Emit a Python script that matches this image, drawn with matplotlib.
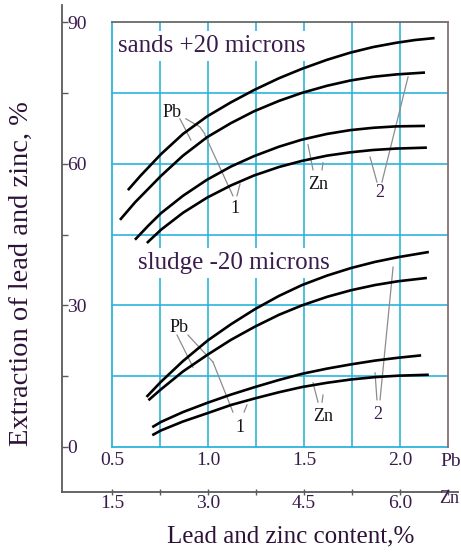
import matplotlib
matplotlib.use('Agg')
import matplotlib.pyplot as plt

plt.rcParams['font.family'] = ['Liberation Serif', 'DejaVu Serif']

# ---------------- data ----------------
# x values in Pb content (%); Zn content = 3 * Pb on the outer axis
pb_ticks = [0.5, 1.0, 1.5, 2.0]
pb_tick_labels = ['0.5', '1.0', '1.5', '2.0']
zn_tick_labels = ['1.5', '3.0', '4.5', '6.0']
zn_minor_ticks = [0.75, 1.25, 1.75, 2.25]
y_ticks = [0, 30, 60, 90]
y_tick_labels = ['0', '30', '60', '90']
y_minor_ticks = [15, 45, 75]
grid_x = [0.75, 1.0, 1.25, 1.5, 1.75, 2.0]
grid_y = [15, 30, 45, 60, 75]

# sands +20 microns
sands_pb1_x = [0.583, 0.65, 0.755, 0.87, 0.995, 1.12, 1.24, 1.37, 1.49, 1.62, 1.74, 1.86, 1.98, 2.08, 2.18]
sands_pb1_y = [54.4, 57.5, 62.0, 66.3, 70.0, 73.0, 75.6, 78.1, 80.1, 82.0, 83.5, 84.7, 85.6, 86.2, 86.6]
sands_pb2_x = [0.542, 0.62, 0.755, 0.87, 0.995, 1.12, 1.24, 1.37, 1.49, 1.62, 1.74, 1.86, 1.98, 2.13]
sands_pb2_y = [48.1, 51.8, 57.4, 61.7, 65.6, 68.6, 71.1, 73.3, 75.0, 76.5, 77.6, 78.4, 78.9, 79.3]
sands_zn1_x = [0.62, 0.69, 0.755, 0.87, 0.995, 1.12, 1.24, 1.37, 1.49, 1.62, 1.74, 1.86, 1.98, 2.13]
sands_zn1_y = [43.9, 46.9, 49.5, 53.2, 56.6, 59.4, 61.6, 63.6, 65.1, 66.3, 67.1, 67.6, 67.9, 68.0]
sands_zn2_x = [0.682, 0.755, 0.87, 0.995, 1.12, 1.24, 1.37, 1.49, 1.62, 1.74, 1.86, 1.98, 2.14]
sands_zn2_y = [43.2, 46.0, 49.6, 52.8, 55.4, 57.5, 59.3, 60.6, 61.7, 62.4, 62.9, 63.2, 63.4]

# sludge -20 microns
sludge_pb1_x = [0.68, 0.755, 0.87, 1.0, 1.12, 1.245, 1.37, 1.49, 1.62, 1.745, 1.87, 1.99, 2.15]
sludge_pb1_y = [10.6, 13.8, 18.2, 22.6, 26.0, 29.2, 32.0, 34.3, 36.3, 37.9, 39.2, 40.2, 41.3]
sludge_pb2_x = [0.69, 0.755, 0.87, 1.0, 1.12, 1.245, 1.37, 1.49, 1.62, 1.745, 1.87, 1.99, 2.14]
sludge_pb2_y = [9.9, 12.2, 16.0, 19.6, 22.7, 25.5, 28.0, 30.0, 31.8, 33.2, 34.3, 35.1, 35.8]
sludge_zn1_x = [0.71, 0.755, 0.87, 1.0, 1.12, 1.245, 1.37, 1.49, 1.62, 1.745, 1.87, 1.99, 2.11]
sludge_zn1_y = [4.2, 5.3, 7.4, 9.4, 11.1, 12.7, 14.2, 15.5, 16.6, 17.5, 18.3, 18.9, 19.4]
sludge_zn2_x = [0.71, 0.755, 0.87, 1.0, 1.12, 1.245, 1.37, 1.49, 1.62, 1.745, 1.87, 1.99, 2.15]
sludge_zn2_y = [2.5, 3.5, 5.4, 7.2, 8.9, 10.3, 11.6, 12.7, 13.6, 14.3, 14.8, 15.1, 15.3]

curves = [
    (sands_pb1_x, sands_pb1_y), (sands_pb2_x, sands_pb2_y),
    (sands_zn1_x, sands_zn1_y), (sands_zn2_x, sands_zn2_y),
    (sludge_pb1_x, sludge_pb1_y), (sludge_pb2_x, sludge_pb2_y),
    (sludge_zn1_x, sludge_zn1_y), (sludge_zn2_x, sludge_zn2_y),
]

# curve labels (text, x, y, colour)
curve_labels = [
    ('Pb', 0.812, 70.8, '#151515'), ('1', 1.14, 50.6, '#151515'),
    ('Zn', 1.573, 55.5, '#151515'), ('2', 1.896, 53.8, '#3a1b4d'),
    ('Pb', 0.849, 25.4, '#151515'), ('1', 1.167, 4.2, '#151515'),
    ('Zn', 1.599, 6.4, '#151515'), ('2', 1.885, 6.8, '#3a1b4d'),
]

# leader lines (x list, y list)
leaders = [
    ([0.854, 0.911], [69.5, 65.0]),
    ([0.885, 0.958, 0.984], [69.5, 67.8, 66.3]),
    ([1.130, 0.984], [53.2, 66.1]),
    ([1.151, 1.167], [53.2, 55.7]),
    ([1.521, 1.547], [64.0, 58.7]),
    ([1.599, 1.594], [60.2, 58.7]),
    ([1.844, 1.880], [61.4, 56.1]),
    ([1.906, 2.042], [56.1, 78.4]),
    ([0.839, 0.922], [23.7, 16.9]),
    ([0.896, 1.026], [23.7, 18.0]),
    ([1.130, 1.026], [7.4, 18.0]),
    ([1.188, 1.203], [7.4, 8.9]),
    ([1.547, 1.573], [13.6, 9.5]),
    ([1.599, 1.594], [11.0, 9.5]),
    ([1.870, 1.880], [15.7, 10.0]),
    ([1.896, 1.964], [10.0, 38.1]),
]

title_sands = 'sands +20 microns'
title_sludge = 'sludge -20 microns'
ylabel = 'Extraction of lead and zinc, %'
xlabel = 'Lead and zinc content,%'

# ---------------- styles ----------------
cyan = '#2bb4da'
purple = '#3a1b4d'
spine_col = '#5a5a5a'

fig = plt.figure(figsize=(4.61, 5.52), dpi=100)
ax = fig.add_axes([0.1345, 0.1087, 0.8590, 0.8822])
ax.set_xlim(0.240, 2.302)
ax.set_ylim(-9.53, 93.6)

for s in ['top', 'right']:
    ax.spines[s].set_visible(False)
for s in ['left', 'bottom']:
    ax.spines[s].set_color(spine_col)
    ax.spines[s].set_linewidth(1.3)

# inner grid
for gx in grid_x:
    ax.plot([gx, gx], [0, 90], color=cyan, lw=1.2, zorder=1)
for gy in grid_y:
    ax.plot([pb_ticks[0], 2.25], [gy, gy], color=cyan, lw=1.2, zorder=1)
# box borders
ax.plot([pb_ticks[0], pb_ticks[0]], [0, 90], color=cyan, lw=1.3, zorder=3)
ax.plot([pb_ticks[0], 2.25], [0, 0], color=cyan, lw=1.3, zorder=3)
ax.plot([pb_ticks[0], 2.25], [90, 90], color='#6a6a6a', lw=1.3, zorder=3)
ax.plot([2.25, 2.25], [0, 90], color='#8a7070', lw=1.3, zorder=3)

# curves
for cx, cy in curves:
    ax.plot(cx, cy, color='black', lw=1.9, zorder=4, solid_capstyle='butt',
            solid_joinstyle='round')

# leaders
for lx, ly in leaders:
    ax.plot(lx, ly, color='#8c8c8c', lw=0.9, zorder=3.5)

for t, lx, ly, c in curve_labels:
    ax.text(lx, ly, t, color=c, fontsize=13, ha='center', va='center', zorder=5)

# section titles with white masks
ax.text(0.531, 83.7, title_sands, fontsize=18, color=purple, ha='left', va='baseline',
        zorder=2, bbox=dict(facecolor='white', edgecolor='none', pad=3))
ax.text(0.635, 37.7, title_sludge, fontsize=18, color=purple, ha='left', va='baseline',
        zorder=2, bbox=dict(facecolor='white', edgecolor='none', pad=3))

# outer axis ticks (Zn scale)
ax.set_xticks(pb_ticks)
ax.set_xticklabels(zn_tick_labels)
ax.set_xticks(zn_minor_ticks, minor=True)
ax.tick_params(axis='x', which='both', direction='inout', length=5, width=1,
               color=spine_col, labelsize=14, labelcolor=purple, pad=0)

ax.set_yticks(y_ticks)
ax.set_yticklabels(y_tick_labels)
ax.set_yticks(y_minor_ticks, minor=True)
ax.tick_params(axis='y', which='both', direction='in', length=4, width=1,
               color=spine_col, labelsize=14, labelcolor=purple, pad=-4)
for lbl in ax.get_yticklabels():
    lbl.set_ha('left')

# inner Pb scale labels
for px, pl in zip(pb_ticks, pb_tick_labels):
    ax.text(px, -2.8, pl, fontsize=14, color=purple, ha='center', va='center')
ax.text(2.262, -3.0, 'Pb', fontsize=14, color=purple, ha='center', va='center', clip_on=False)
ax.text(2.256, -10.9, 'Zn', fontsize=13, color=purple, ha='center', va='center', clip_on=False)

fig.text(21 / 461, 1 - 274 / 552, ylabel, rotation=90, fontsize=20.5, color='#2d1238',
         ha='center', va='center')
fig.text(291 / 461, 1 - 542 / 552, xlabel, fontsize=18, color='#2d1238',
         ha='center', va='baseline')

fig.savefig('out.png', dpi=100, facecolor='white')
